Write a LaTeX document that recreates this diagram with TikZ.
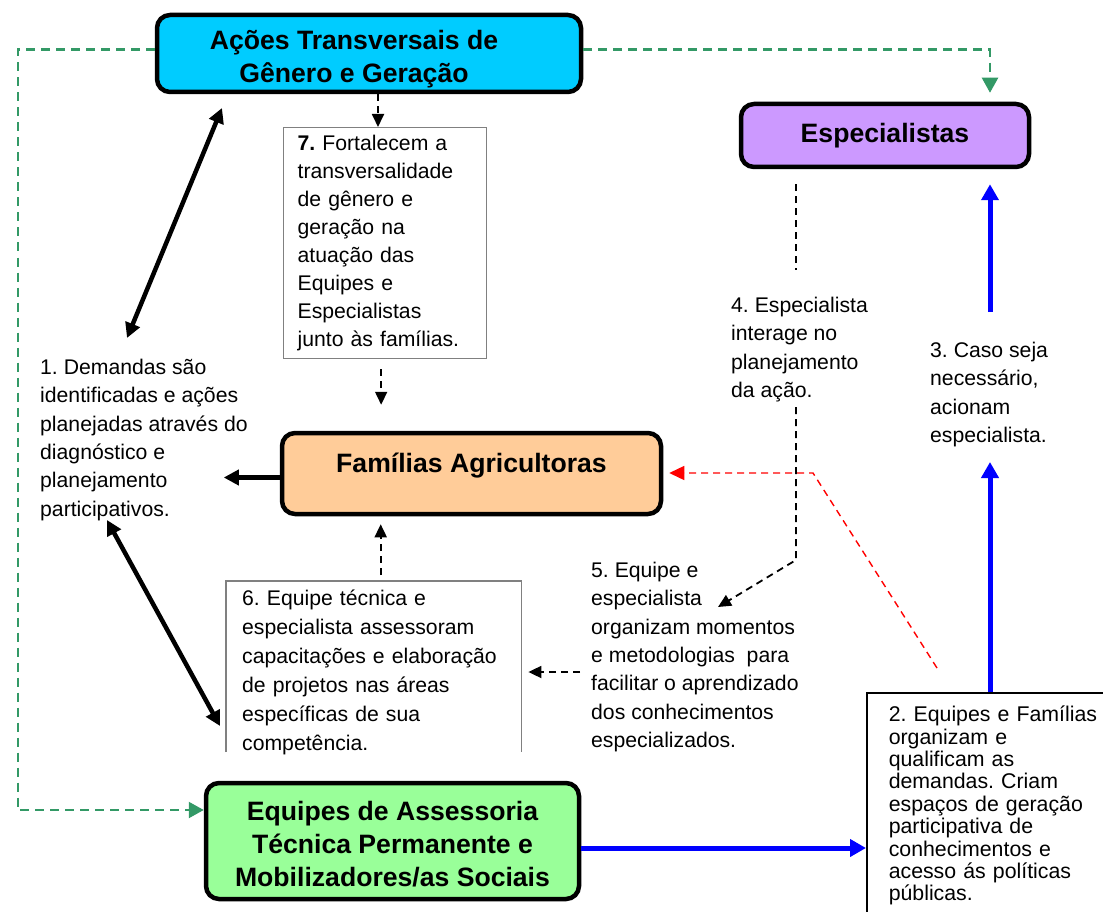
\documentclass[tikz,border=0pt]{standalone}
\usepackage{fontspec}
\setmainfont{Liberation Sans}
\usetikzlibrary{arrows.meta}
\frenchspacing

\definecolor{acoescol}{HTML}{00CCFF}
\definecolor{espcol}{HTML}{CC99FF}
\definecolor{famcol}{HTML}{FFCC99}
\definecolor{eqcol}{HTML}{99FF99}
\definecolor{linkgreen}{HTML}{339966}

\begin{document}
\begin{tikzpicture}[x=1pt, y=-1pt,
    mainbox/.style={draw, line width=4.5pt, rounded corners=13pt, inner sep=0pt, align=center,
      font=\bfseries\fontsize{26.6}{33}\selectfont},
    notebox/.style={anchor=north west, align=left, font=\fontsize{21.2}{28}\selectfont},
    freetext/.style={anchor=north west, inner sep=0pt, align=left, font=\fontsize{21.2}{28.3}\selectfont},
    greendash/.style={linkgreen, line width=2.2pt, dash pattern=on 9pt off 6pt, -{Triangle[length=15pt, width=16pt]}},
    blackdash/.style={black, line width=1.8pt, dash pattern=on 7pt off 5pt, -{Triangle[length=13pt, width=12pt]}},
    reddash/.style={red, line width=1.4pt, dash pattern=on 7pt off 5pt, -{Triangle[length=15pt, width=14pt]}},
    thickarrow/.style={line width=4.5pt, -{Triangle[length=15pt, width=15pt]}},
    thickboth/.style={line width=4.5pt, {Triangle[length=15pt, width=15pt]}-{Triangle[length=15pt, width=15pt]}},
    bluearrow/.style={blue, line width=5pt, -{Triangle[length=16pt, width=17pt]}}]
  \clip (0,0) rectangle (1103,912);

  % main boxes
  \node[mainbox, fill=acoescol, minimum width=424pt, minimum height=77pt] (acoes) at (369,53.5)
    {\rule{0pt}{30pt}Ações Transversais de\hspace*{30pt}\\Gênero e Geração\hspace*{30pt}};
  \node[mainbox, fill=espcol, minimum width=288pt, minimum height=63pt] (esp) at (885,135.5) {Especialistas};
  \node[mainbox, fill=famcol, minimum width=379pt, minimum height=81pt, text depth=22pt] (fam) at (471.5,473.5)
    {Famílias Agricultoras};
  \node[mainbox, fill=eqcol, minimum width=373pt, minimum height=116pt] (equipes) at (392.5,841)
    {\rule{0pt}{26pt}Equipes de Assessoria\\Técnica Permanente e\\Mobilizadores/as Sociais};

  % boxed notes
  \node[notebox, draw=gray, line width=1.3pt, text width=175pt, inner xsep=14pt, inner ysep=3pt,
    minimum height=231pt] (b7) at (283,127)
    {\textbf{7.} Fortalecem a\\transversalidade\\de gênero e\\geração na\\atuação das\\Equipes e\\Especialistas\\junto às famílias.};
  \node[notebox, font=\fontsize{21.2}{29}\selectfont, text width=263pt, inner xsep=16pt, inner ysep=9pt] (box6) at (226,581)
    {6. Equipe técnica e\\especialista assessoram\\capacitações e elaboração\\de projetos nas áreas\\específicas de sua\\competência.};
  \draw[gray, line width=1.3pt] ([yshift=-171pt]box6.north west) -- (box6.north west) -- (box6.north east) -- ++(0,171);
  \node[notebox, draw, line width=1.5pt, font=\fontsize{21.3}{22.4}\selectfont, text width=215pt, inner xsep=22pt,
    inner ysep=9pt, minimum height=226pt] (b2) at (866,692)
    {2. Equipes e Famílias\\organizam e\\qualificam as\\demandas. Criam\\espaços de geração\\participativa de\\conhecimentos e\\acesso ás políticas\\públicas.};

  % free texts
  \node[freetext] (t1) at (40,359) {1. Demandas são\\identificadas e ações\\planejadas através do\\diagnóstico e\\planejamento\\participativos.};
  \node[freetext] (t4) at (731,297) {4. Especialista\\interage no\\planejamento\\da ação.};
  \node[freetext] (t3) at (930,342) {3. Caso seja\\necessário,\\acionam\\especialista.};
  \node[freetext] (t5) at (591,562) {5. Equipe e\\especialista\\organizam momentos\\e metodologias\ \ para\\facilitar o aprendizado\\dos conhecimentos\\especializados.};

  \coordinate (d1a) at (222,108);
  \coordinate (d1b) at (127,338);
  \coordinate (d2a) at (107,520);
  \coordinate (d2b) at (220,726);
  \coordinate (e4a) at (796,270);
  \coordinate (e4b) at (796,560);
  \coordinate (t5tip) at (718,607);
  \coordinate (t5l) at (580,672);
  \coordinate (rs) at (937,668);
  \coordinate (rb) at (813,473);
  \coordinate (bl) at (990,462);
  \coordinate (bu) at (990,312);

  % green links
  \draw[greendash] ([yshift=4pt]acoes.west) -- ++(-137,0) |- ([yshift=31pt]equipes.west);
  \draw[greendash, shorten >=9pt] ([yshift=4pt]acoes.east) -| ([xshift=105pt]esp.north);

  % black links
  \draw[blackdash] ([xshift=9pt]acoes.south) -- ([xshift=9pt]acoes.south |- b7.north);
  \draw[blackdash, shorten <=10pt, shorten >=26pt] ([xshift=-4pt]b7.south) -- ([xshift=-4pt]b7.south |- fam.north);
  \draw[blackdash, shorten <=6pt, shorten >=8pt] ([xshift=7pt]box6.north) -- ([xshift=7pt]box6.north |- fam.south);
  \draw[blackdash, -, shorten <=15pt] (e4a |- esp.south) -- (e4a);
  \draw[blackdash, shorten <=5pt] (e4b |- t4.south) -- (e4b) -- (t5tip);
  \draw[blackdash, shorten >=7pt] (t5l) -- (t5l -| box6.east);
  \draw[thickboth] (d1a) -- (d1b);
  \draw[thickarrow] ([yshift=-4pt]fam.west) -- ++(-56,0);
  \draw[thickboth] (d2a) -- (d2b);

  % red link
  \draw[reddash, shorten >=6pt] (rs) -- (rb) -- (rb -| fam.east);

  % blue links
  \draw[bluearrow] (bl |- b2.north) -- (bl);
  \draw[bluearrow, shorten >=15pt] (bu) -- (bu |- esp.south);
  \draw[bluearrow] ([yshift=-7pt]equipes.east) -- ([yshift=-7pt]equipes.east -| b2.west);
\end{tikzpicture}
\end{document}
